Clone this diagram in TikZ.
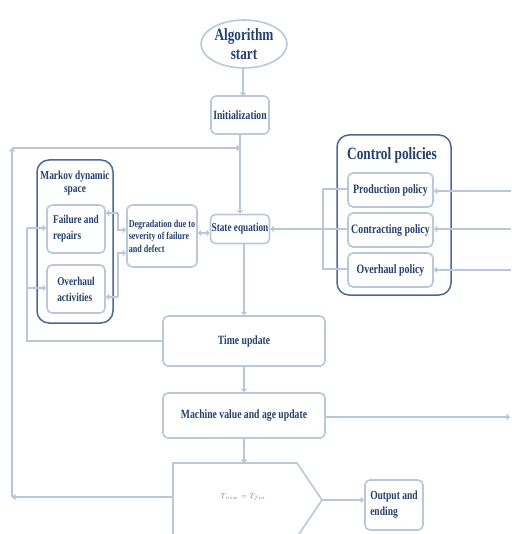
\documentclass[tikz,border=0pt]{standalone}
\usepackage{fontspec}
\setmainfont{Liberation Serif}[FakeStretch=0.77]
\usetikzlibrary{shapes.geometric,arrows.meta}
\definecolor{txt}{HTML}{24406E}
\definecolor{lbord}{HTML}{BAC8DA}
\definecolor{dbord}{HTML}{4C6894}
\definecolor{ln}{HTML}{B9C7D8}
\definecolor{mtxt}{HTML}{6F7F9A}
\tikzset{
  box/.style={draw=lbord, line width=1.6pt, rounded corners=5pt, fill=white, text=txt,
    font=\bfseries\fontsize{12.6}{14}\selectfont, align=center, inner sep=1pt},
  grp/.style={draw=dbord, line width=1.5pt, rounded corners=12pt, fill=white},
  conn/.style={draw=ln, line width=1.3pt},
  arr/.style={conn, -{Straight Barb[length=2.5pt,width=5pt]}},
  darr/.style={conn, {Straight Barb[length=2.5pt,width=5pt]}-{Straight Barb[length=2.5pt,width=5pt]}},
}
\begin{document}
\begin{tikzpicture}[x=1pt,y=-1pt]
\useasboundingbox (0,0) rectangle (511,534);
% group frames
\node[grp, minimum width=76pt, minimum height=163pt] (markov) at (75,241.5) {};
\node[text=txt, font=\bfseries\fontsize{12.2}{12.5}\selectfont, align=center, inner sep=0pt] (mtitle) at (75,183) {Markov dynamic\\space};
\node[grp, minimum width=114pt, minimum height=160pt] (ctrl) at (394,215) {};
\node[text=txt, font=\bfseries\fontsize{17.3}{18}\selectfont] (ctitle) at (392,155) {Control policies};
% nodes
\node[box, ellipse, rounded corners=0pt, minimum width=86pt, minimum height=48pt, inner sep=0pt,
  font=\bfseries\fontsize{17.2}{18.5}\selectfont] (start) at (244,44) {Algorithm\\start};
\node[box, minimum width=58pt, minimum height=38pt] (init) at (240,115) {Initialization};
\node[box, minimum width=59pt, minimum height=29pt, font=\bfseries\fontsize{12}{14}\selectfont] (state) at (240,229) {State equation};
\node[box, minimum width=70pt, minimum height=62pt, font=\bfseries\fontsize{10.5}{12.5}\selectfont, align=left] (deg) at (162,236) {Degradation due to\\severity of failure\\and defect};
\node[box, minimum width=58pt, minimum height=48pt, align=left, font=\bfseries\fontsize{12}{16}\selectfont] (fail) at (76,229) {Failure and\\repairs};
\node[box, minimum width=58pt, minimum height=48pt, align=left, font=\bfseries\fontsize{12}{16}\selectfont] (overh) at (76,289) {Overhaul\\activities};
\node[box, minimum width=85pt, minimum height=34pt, font=\bfseries\fontsize{12.8}{14}\selectfont] (prod) at (390.5,190) {Production policy};
\node[box, minimum width=85pt, minimum height=34pt, font=\bfseries\fontsize{12.8}{14}\selectfont] (contr) at (390.5,230) {Contracting policy};
\node[box, minimum width=85pt, minimum height=34pt, font=\bfseries\fontsize{12.8}{14}\selectfont] (ovp) at (390.5,270) {Overhaul policy};
\node[box, minimum width=162pt, minimum height=50pt] (time) at (244,341) {Time update};
\node[box, minimum width=162pt, minimum height=45pt] (mach) at (244,415.5) {Machine value and age update};
% decision shape
\coordinate (dtl) at (173,463);
\coordinate (dtr) at (297,463);
\coordinate (dtip) at (322,500);
\coordinate (dbr) at (297,537);
\coordinate (dbl) at (173,537);
\draw[draw=lbord, line width=1.6pt, fill=white] (dtl) -- (dtr) -- (dtip) -- (dbr) -- (dbl) -- cycle;
\node[text=mtxt, font=\fontsize{7.5}{8}\selectfont] (dec) at (243,497) {$T_{new} = T_{fin}$};
\coordinate (dtop) at (244,463);
\coordinate (dleft) at (173,497);
\node[box, minimum width=58pt, minimum height=50pt, align=left, font=\bfseries\fontsize{12.4}{16}\selectfont] (out) at (394,505) {Output and\\ending};
% main flow
\draw[arr] (start.south -| 243,0) -- (243,96);
\draw[arr] (init.south) -- (state.north);
\draw[arr] (244,243.5) -- (time.north);
\draw[arr] (time.south) -- (mach.north);
\draw[arr] (mach.south) -- (dtop);
\draw[arr] (dtip) -- (out.west |- dtip);
% feedback loop
\coordinate (lb) at (12,497);
\coordinate (lt) at (12,148);
\coordinate (lj) at (240,148);
\draw[arr] (dleft) -- (lb);
\draw[arr] (lb) -- (lt);
\draw[arr] (lt) -- (lj);
% machine to right edge
\coordinate (mr) at (510,417);
\draw[arr] (mach.east |- mr) -- (mr);
% right inputs into policies
\coordinate (r1) at (511,191);
\coordinate (r2) at (511,229);
\coordinate (r3) at (511,270);
\draw[arr] (r1) -- (prod.east |- r1);
\draw[arr] (r2) -- (contr.east |- r2);
\draw[arr] (r3) -- (ovp.east |- r3);
% policies to state equation
\coordinate (b1) at (323,189);
\coordinate (b3) at (323,269);
\draw[conn] (prod.west |- b1) -- (b1) -- (b3) -- (ovp.west |- b3);
\draw[arr] (contr.west |- r2) -- (state.east |- r2);
% degradation <-> state
\draw[darr] (deg.east |- 0,233) -- (state.west |- 0,233);
% Markov <-> degradation
\coordinate (m1) at (118,213);
\coordinate (m2) at (118,230);
\coordinate (m3) at (118,253);
\coordinate (m4) at (118,297);
\draw[arr] (m1) -- (fail.east |- m1);
\draw[arr] (m1) -- (m2) -- (deg.west |- m2);
\draw[arr] (m4) -- (overh.east |- m4);
\draw[arr] (m4) -- (m3) -- (deg.west |- m3);
% time update back to Markov boxes
\coordinate (t1) at (27,341);
\coordinate (t2) at (27,228);
\coordinate (t3) at (27,288);
\draw[conn] (time.west) -- (t1) -- (t2);
\draw[arr] (t2) -- (fail.west |- t2);
\draw[arr] (t3) -- (overh.west |- t3);
\end{tikzpicture}
\end{document}
